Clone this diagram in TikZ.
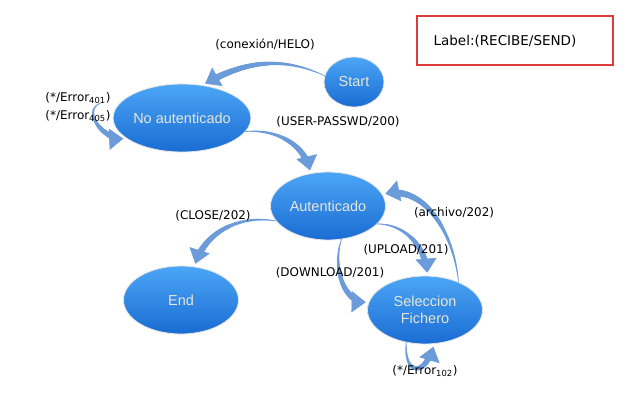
\documentclass[tikz,border=0pt]{standalone}
\usepackage{fontspec}
\setmainfont{DejaVu Sans}
\newfontfamily\statefont{Liberation Sans}
\usepackage{tikz}
\usetikzlibrary{arrows.meta,shapes.geometric,decorations.markings,calc}
\definecolor{statetop}{HTML}{4BA6F6}
\definecolor{statebot}{HTML}{1A6CD2}
\definecolor{statetxt}{HTML}{E8E6D6}
\definecolor{flowcol}{HTML}{6B9BD9}
\definecolor{legendcol}{HTML}{DD3B3B}

\tikzset{
  statenode/.style={ellipse, top color=statetop, bottom color=statebot,
    draw=white!80!gray, line width=0.6pt, text=statetxt, align=center,
    font=\statefont\fontsize{10.3}{12.5}\selectfont,
    minimum width=2.875cm, minimum height=1.7cm, inner sep=0pt},
  % tapered arrow: dots growing along the path, tip near the end
  flowarrow/.style={postaction={decorate}, decoration={markings,
    mark=between positions 0 and -9pt step 0.6pt with {\fill[flowcol] (0,0) circle
      ({0.35pt+2.3pt*\pgfkeysvalueof{/pgf/decoration/mark info/distance from start}/\pgfdecoratedpathlength});},
    mark=at position -2pt with {\arrow[flowcol]{Triangle[width=15pt,length=10pt]}}}},
  edgelabel/.style={font=\fontsize{8.5}{10}\selectfont, inner sep=1pt}
}

\begin{document}
\begin{tikzpicture}[x=0.025cm, y=-0.025cm]
\useasboundingbox (0,0) rectangle (640,400);

% states
\node[statenode, minimum width=1.5cm, minimum height=1.25cm] (start) at (354,82) {Start};
\node[statenode] (noauth) at (182,118) {No autenticado};
\node[statenode] (auth) at (328,206) {Autenticado};
\node[statenode] (fin) at (181,300) {End};
\node[statenode] (selfile) at (425,310) {Seleccion\\Fichero};

% legend box
\draw[legendcol, line width=1.3pt] (417,16) rectangle (613,65);
\node[font=\fontsize{9.6}{11}\selectfont] (legend) at (505,41) {Label:(RECIBE/SEND)};

% connectors
\coordinate (looptail) at (101,103);
\path[flowarrow] (start.168) to[out=155, in=30] (noauth.58);
\path[flowarrow] (looptail) to[out=200, in=190, looseness=1.3] (noauth.200);
\path[flowarrow] (noauth.-12) to[out=5, in=100] (auth.118);
\path[flowarrow] (auth.196) to[out=170, in=75] (fin.68);
\path[flowarrow] (auth.-20) to[out=0, in=92] (selfile.86);
\path[flowarrow] (auth.-68) to[out=250, in=185] (selfile.172);
\path[flowarrow] (selfile.40) to[out=95, in=15] (auth.12);
\path[flowarrow] (selfile.240) .. controls +(-2,35) and +(-8,32) .. (selfile.285);

% labels
\node[edgelabel] (lblhelo) at (265,45) {(conexión/HELO)};
\node[edgelabel] (lblerr1) at (78,98) {(*/Error\textsubscript{401})};
\node[edgelabel] (lblerr2) at (78,116) {(*/Error\textsubscript{405})};
\node[edgelabel] (lbluser) at (338,122) {(USER-PASSWD/200)};
\node[edgelabel] (lblclose) at (213,216) {(CLOSE/202)};
\node[edgelabel] (lblup) at (406,250) {(UPLOAD/201)};
\node[edgelabel] (lbldown) at (330,273) {(DOWNLOAD/201)};
\node[edgelabel] (lblfile) at (454,213) {(archivo/202)};
\node[edgelabel] (lblerr3) at (425,371) {(*/Error\textsubscript{102})};
\end{tikzpicture}
\end{document}
